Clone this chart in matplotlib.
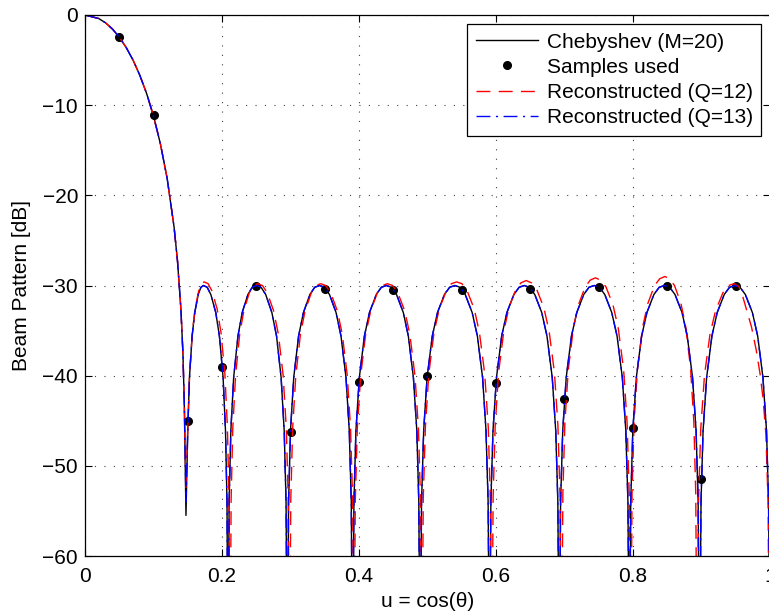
import numpy as np
import matplotlib
matplotlib.use('Agg')
import matplotlib.pyplot as plt

plt.rcParams['font.family'] = ['Liberation Sans', 'DejaVu Sans']

# Chebyshev pattern (M=20)
cheb_u = [0, 0.02, 0.03, 0.04, 0.05, 0.06, 0.07, 0.08, 0.09, 0.10, 0.11, 0.12, 0.13, 0.135, 0.14, 0.143, 0.145, 0.1474,
          0.1500, 0.1525, 0.1564, 0.1602, 0.1653, 0.1692, 0.1730,
          0.1784, 0.1837, 0.1909, 0.1962, 0.2016, 0.2051, 0.2073, 0.2087,
          0.2104, 0.2129, 0.2170, 0.2233, 0.2295, 0.2378, 0.2441, 0.2503, 0.2571, 0.2638, 0.2728, 0.2796, 0.2863, 0.2908, 0.2935, 0.2953,
          0.2972, 0.3000, 0.3047, 0.3118, 0.3189, 0.3283, 0.3353, 0.3424, 0.3496, 0.3569, 0.3665, 0.3737, 0.3810, 0.3858, 0.3887, 0.3906,
          0.3926, 0.3955, 0.4005, 0.4079, 0.4153, 0.4252, 0.4326, 0.4400, 0.4474, 0.4548, 0.4647, 0.4720, 0.4794, 0.4844, 0.4873, 0.4893,
          0.4913, 0.4944, 0.4994, 0.5070, 0.5146, 0.5247, 0.5323, 0.5399, 0.5475, 0.5551, 0.5652, 0.5728, 0.5804, 0.5854, 0.5885, 0.5905,
          0.5925, 0.5956, 0.6007, 0.6083, 0.6159, 0.6261, 0.6337, 0.6413, 0.6489, 0.6566, 0.6668, 0.6744, 0.6821, 0.6872, 0.6903, 0.6923,
          0.6943, 0.6974, 0.7025, 0.7102, 0.7179, 0.7281, 0.7357, 0.7434, 0.7511, 0.7588, 0.7690, 0.7767, 0.7844, 0.7895, 0.7926, 0.7946,
          0.7967, 0.7997, 0.8049, 0.8126, 0.8203, 0.8305, 0.8382, 0.8459, 0.8536, 0.8613, 0.8716, 0.8792, 0.8869, 0.8921, 0.8951, 0.8972,
          0.8993, 0.9023, 0.9075, 0.9152, 0.9229, 0.9332, 0.9409, 0.9486, 0.9563, 0.9640, 0.9743, 0.9820, 0.9897, 0.9949, 0.9979, 1.0]
cheb_db = [0, -0.39, -0.87, -1.55, -2.45, -3.59, -4.98, -6.68, -8.72, -11.2, -14.26, -18.15, -23.5, -27.25, -32.6, -37.6, -43.3, -55.5,
           -46.1, -40.2, -35.6, -33.0, -31.0, -30.2, -30.0,
           -30.2, -31.0, -33.0, -35.6, -40.2, -46.1, -54.0, -75,
           -54.0, -46.1, -40.2, -35.6, -33.0, -31.0, -30.2, -30.0, -30.2, -31.0, -33.0, -35.6, -40.2, -46.1, -54.0, -75,
           -54.0, -46.1, -40.2, -35.6, -33.0, -31.0, -30.2, -30.0, -30.2, -31.0, -33.0, -35.6, -40.2, -46.1, -54.0, -75,
           -54.0, -46.1, -40.2, -35.6, -33.0, -31.0, -30.2, -30.0, -30.2, -31.0, -33.0, -35.6, -40.2, -46.1, -54.0, -75,
           -54.0, -46.1, -40.2, -35.6, -33.0, -31.0, -30.2, -30.0, -30.2, -31.0, -33.0, -35.6, -40.2, -46.1, -54.0, -75,
           -54.0, -46.1, -40.2, -35.6, -33.0, -31.0, -30.2, -30.0, -30.2, -31.0, -33.0, -35.6, -40.2, -46.1, -54.0, -75,
           -54.0, -46.1, -40.2, -35.6, -33.0, -31.0, -30.2, -30.0, -30.2, -31.0, -33.0, -35.6, -40.2, -46.1, -54.0, -75,
           -54.0, -46.1, -40.2, -35.6, -33.0, -31.0, -30.2, -30.0, -30.2, -31.0, -33.0, -35.6, -40.2, -46.1, -54.0, -75,
           -54.0, -46.1, -40.2, -35.6, -33.0, -31.0, -30.2, -30.0, -30.2, -31.0, -33.0, -35.6, -40.2, -46.1, -54.0, -75]

# samples used
samp_u = [0.05, 0.10, 0.15, 0.20, 0.25, 0.30, 0.35, 0.40, 0.45, 0.50,
          0.55, 0.60, 0.65, 0.70, 0.75, 0.80, 0.85, 0.90, 0.95]
samp_db = [-2.44, -11.1, -45.0, -39.0, -30.05, -46.2, -30.35, -40.7, -30.5, -40.0,
           -30.5, -40.8, -30.4, -42.6, -30.2, -45.8, -30.1, -51.5, -30.05]

# reconstruction with Q=12
q12_u = [0, 0.02, 0.03, 0.04, 0.05, 0.06, 0.07, 0.08, 0.09, 0.10, 0.11, 0.12, 0.13, 0.135, 0.14, 0.143, 0.145, 0.1474,
         0.1501, 0.1527, 0.1567, 0.1607, 0.1660, 0.1700, 0.1740,
         0.1797, 0.1853, 0.1929, 0.1985, 0.2042, 0.2079, 0.2102, 0.2117,
         0.2133, 0.2157, 0.2198, 0.2258, 0.2319, 0.2399, 0.2460, 0.2520, 0.2590, 0.2660, 0.2753, 0.2823, 0.2893, 0.2939, 0.2967, 0.2986,
         0.3004, 0.3031, 0.3077, 0.3145, 0.3213, 0.3304, 0.3372, 0.3440, 0.3513, 0.3586, 0.3683, 0.3756, 0.3829, 0.3877, 0.3907, 0.3926,
         0.3946, 0.3975, 0.4024, 0.4097, 0.4171, 0.4268, 0.4342, 0.4415, 0.4490, 0.4566, 0.4667, 0.4742, 0.4817, 0.4868, 0.4898, 0.4918,
         0.4938, 0.4969, 0.5019, 0.5095, 0.5172, 0.5273, 0.5349, 0.5425, 0.5502, 0.5579, 0.5682, 0.5758, 0.5835, 0.5887, 0.5917, 0.5938,
         0.5958, 0.5988, 0.6038, 0.6114, 0.6189, 0.6289, 0.6365, 0.6440, 0.6517, 0.6595, 0.6698, 0.6775, 0.6853, 0.6904, 0.6935, 0.6956,
         0.6976, 0.7005, 0.7055, 0.7129, 0.7203, 0.7302, 0.7376, 0.7450, 0.7527, 0.7605, 0.7708, 0.7785, 0.7863, 0.7914, 0.7945, 0.7966,
         0.7986, 0.8016, 0.8066, 0.8141, 0.8216, 0.8315, 0.8390, 0.8465, 0.8535, 0.8606, 0.8700, 0.8770, 0.8841, 0.8888, 0.8916, 0.8935,
         0.8957, 0.8989, 0.9043, 0.9124, 0.9205, 0.9313, 0.9394, 0.9475,
         0.9545, 0.9605, 0.967, 0.973, 0.980, 0.9855, 0.990, 0.994, 0.9972, 0.999]
q12_db = [0, -0.39, -0.87, -1.55, -2.45, -3.59, -4.98, -6.68, -8.72, -11.2, -14.26, -18.15, -23.5, -27.25, -32.6, -37.6, -43.3, -52.5,
          -45.7, -39.8, -35.2, -32.6, -30.6, -29.8, -29.6,
          -29.8, -30.6, -32.6, -35.2, -39.8, -45.7, -53.6, -75,
          -53.8, -45.9, -40.0, -35.4, -32.8, -30.8, -30.0, -29.8, -30.0, -30.8, -32.8, -35.4, -40.0, -45.9, -53.8, -75,
          -53.8, -45.9, -40.0, -35.4, -32.8, -30.8, -30.0, -29.8, -30.0, -30.8, -32.8, -35.4, -40.0, -45.9, -53.8, -75,
          -53.8, -45.9, -40.0, -35.4, -32.8, -30.8, -30.0, -29.8, -30.0, -30.8, -32.8, -35.4, -40.0, -45.9, -53.8, -75,
          -53.6, -45.7, -39.8, -35.2, -32.6, -30.6, -29.8, -29.6, -29.8, -30.6, -32.6, -35.2, -39.8, -45.7, -53.6, -75,
          -53.45, -45.55, -39.65, -35.05, -32.45, -30.45, -29.7, -29.45, -29.7, -30.45, -32.45, -35.05, -39.65, -45.55, -53.45, -75,
          -53.15, -45.25, -39.35, -34.75, -32.15, -30.15, -29.4, -29.15, -29.4, -30.15, -32.15, -34.75, -39.35, -45.25, -53.15, -75,
          -53.0, -45.1, -39.2, -34.6, -32.0, -30.0, -29.25, -29.0, -29.25, -30.0, -32.0, -34.6, -39.2, -45.1, -53.0, -75,
          -53.8, -45.9, -40.0, -35.4, -32.8, -30.8, -30.0, -29.8,
          -30.1, -31.3, -33.0, -34.6, -37.2, -39.8, -42.6, -46.5, -54.0, -75]

# reconstruction with Q=13 (lies on the Chebyshev curve)
q13_u = cheb_u
q13_db = [0, -0.39, -0.87, -1.55, -2.45, -3.59, -4.98, -6.68, -8.72, -11.2, -14.26, -18.15, -23.5, -27.25, -32.6, -37.6, -43.3, -54.0,
          -46.1, -40.2, -35.6, -33.0, -31.0, -30.2, -30.0,
          -30.2, -31.0, -33.0, -35.6, -40.2, -46.1, -54.0, -75,
          -54.0, -46.1, -40.2, -35.6, -33.0, -31.0, -30.2, -30.0, -30.2, -31.0, -33.0, -35.6, -40.2, -46.1, -54.0, -75,
          -54.0, -46.1, -40.2, -35.6, -33.0, -31.0, -30.2, -30.0, -30.2, -31.0, -33.0, -35.6, -40.2, -46.1, -54.0, -75,
          -54.0, -46.1, -40.2, -35.6, -33.0, -31.0, -30.2, -30.0, -30.2, -31.0, -33.0, -35.6, -40.2, -46.1, -54.0, -75,
          -54.0, -46.1, -40.2, -35.6, -33.0, -31.0, -30.2, -30.0, -30.2, -31.0, -33.0, -35.6, -40.2, -46.1, -54.0, -75,
          -54.0, -46.1, -40.2, -35.6, -33.0, -31.0, -30.2, -30.0, -30.2, -31.0, -33.0, -35.6, -40.2, -46.1, -54.0, -75,
          -54.0, -46.1, -40.2, -35.6, -33.0, -31.0, -30.2, -30.0, -30.2, -31.0, -33.0, -35.6, -40.2, -46.1, -54.0, -75,
          -54.0, -46.1, -40.2, -35.6, -33.0, -31.0, -30.2, -30.0, -30.2, -31.0, -33.0, -35.6, -40.2, -46.1, -54.0, -75,
          -54.0, -46.1, -40.2, -35.6, -33.0, -31.0, -30.2, -30.0, -30.2, -31.0, -33.0, -35.6, -40.2, -46.1, -54.0, -75]

xticks = [0, 0.2, 0.4, 0.6, 0.8, 1.0]
xticklabels = ['0', '0.2', '0.4', '0.6', '0.8', '1']
yticks = [0, -10, -20, -30, -40, -50, -60]

fig = plt.figure(figsize=(7.69, 6.13), dpi=100)
ax = fig.add_axes([85/769, 57/613, 685/769, 541/613])

ax.plot(cheb_u, cheb_db, color='k', lw=1.0, label='Chebyshev (M=20)')
ax.plot(samp_u, samp_db, 'o', color='k', ms=5.5, label='Samples used')
ax.plot(q12_u, q12_db, color='r', lw=1.0, dashes=(10, 6), label='Reconstructed (Q=12)')
ax.plot(q13_u, q13_db, color='b', lw=1.0, dashes=(10, 4, 1.5, 4), label='Reconstructed (Q=13)')

ax.set_xlim(0, 1)
ax.set_ylim(-60, 0)
ax.set_xticks(xticks)
ax.set_xticklabels(xticklabels)
ax.set_yticks(yticks)
ax.grid(True, color='k', lw=0.8, dashes=(1, 7.5), alpha=0.75)
ax.tick_params(direction='in', top=True, right=True, length=5, width=0.8, labelsize=15)
ax.tick_params(axis='x', pad=8)
ax.tick_params(axis='y', pad=5)
for s in ax.spines.values():
    s.set_linewidth(0.9)

ax.set_xlabel('u = cos(θ)', fontsize=15, labelpad=4)
ax.set_ylabel('Beam Pattern [dB]', fontsize=15, labelpad=8)

leg = ax.legend(loc='upper right', bbox_to_anchor=(0.987, 0.983), borderaxespad=0,
                fontsize=15, fancybox=False, framealpha=1, edgecolor='k',
                handlelength=3.0, handletextpad=0.4, labelspacing=0.3, borderpad=0.4)
leg.get_frame().set_linewidth(0.9)

fig.savefig('out.png', dpi=100)
